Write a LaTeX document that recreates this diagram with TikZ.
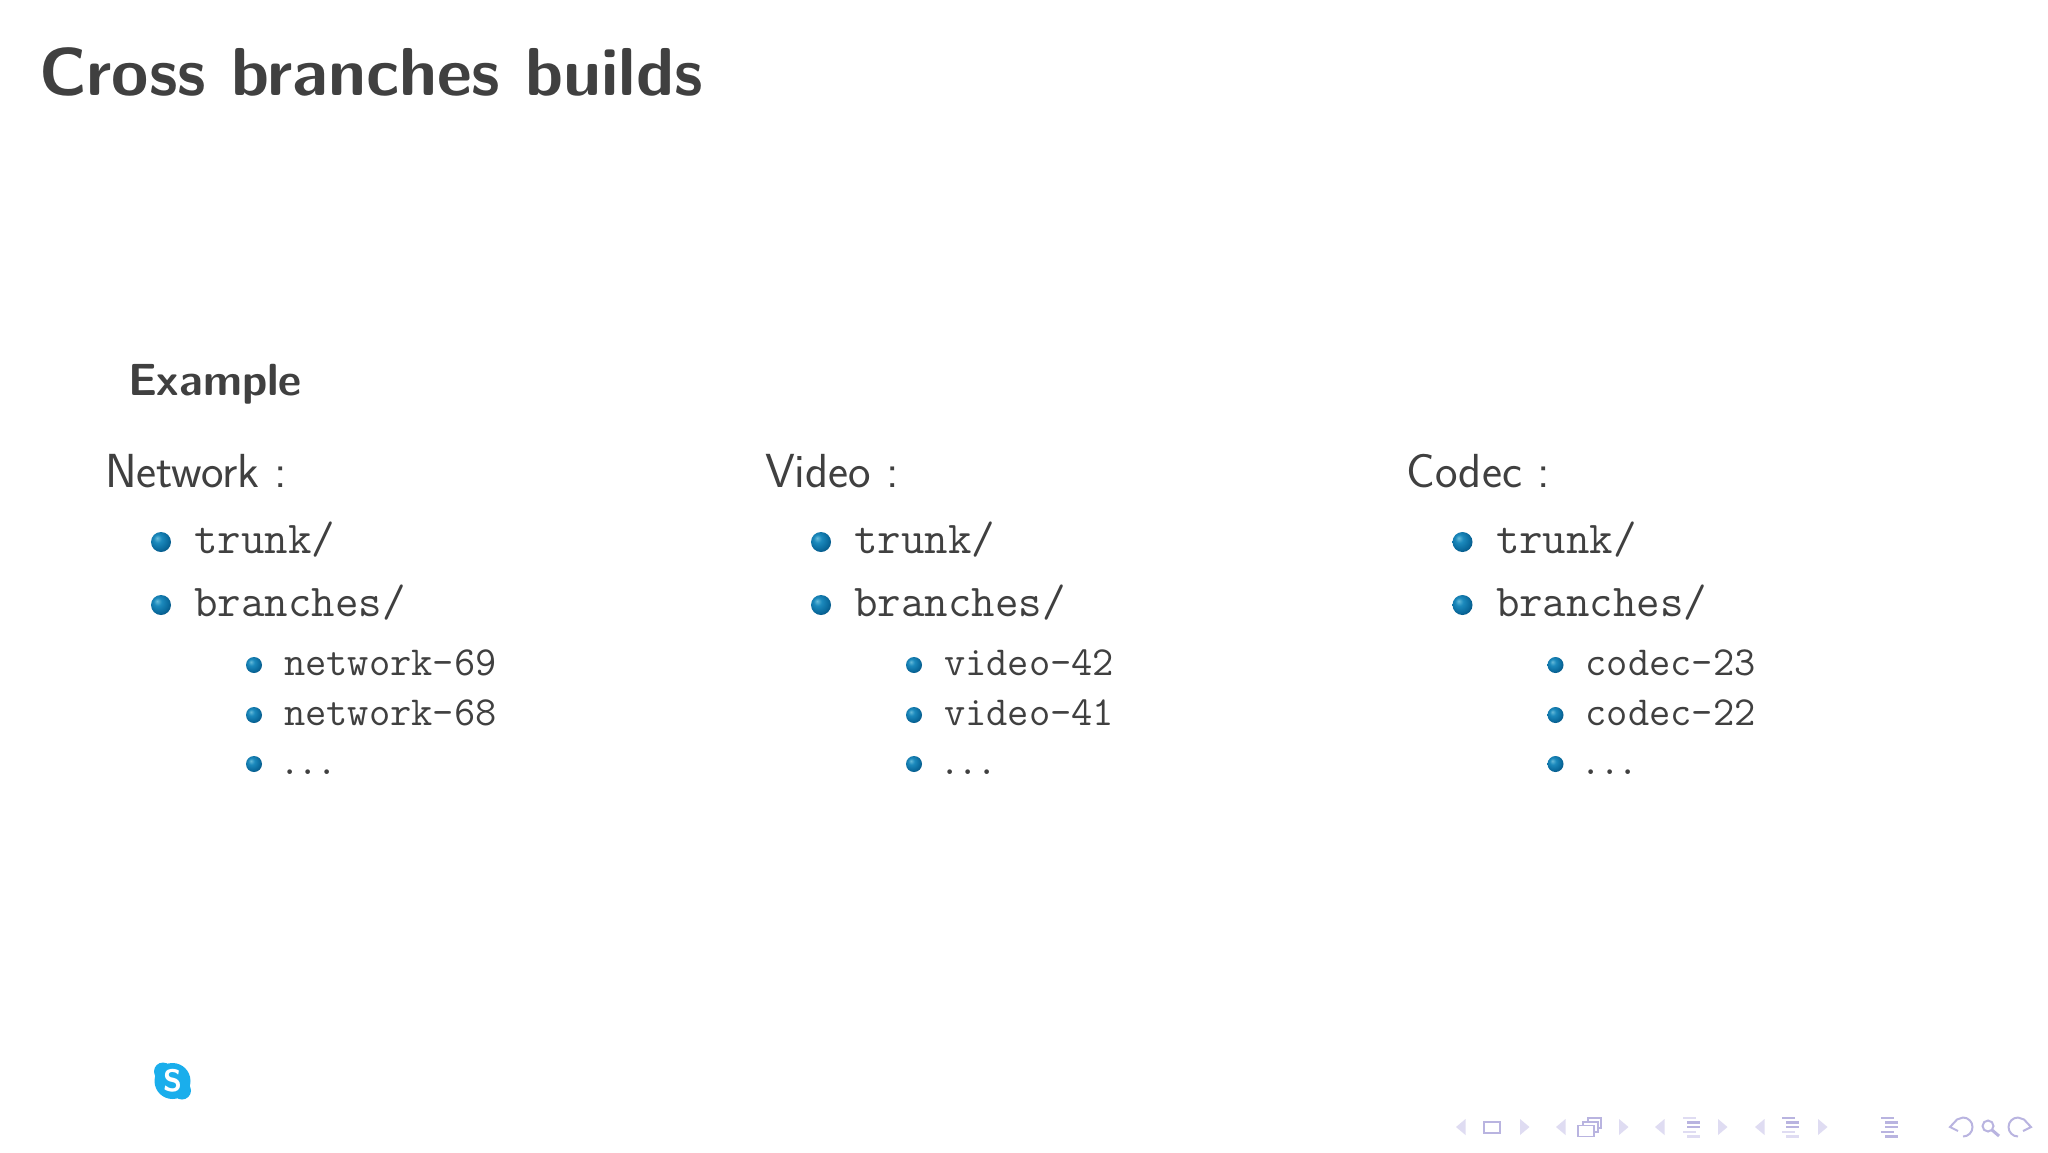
\documentclass[tikz,border=0pt]{standalone}
\usepackage{fontspec}
\definecolor{txt}{HTML}{404040}
\definecolor{navd}{HTML}{B9B4E0}
\definecolor{navl}{HTML}{DFDCF2}
\definecolor{skype}{HTML}{1AAEEC}
\pgfdeclareradialshading{blueball}{\pgfpoint{-10bp}{10bp}}{%
  rgb(0bp)=(0.40,0.73,0.85);
  rgb(10bp)=(0.11,0.54,0.74);
  rgb(24bp)=(0.04,0.42,0.62);
  rgb(36bp)=(0.02,0.30,0.47);
  rgb(60bp)=(0.02,0.30,0.47)}
\newcommand{\fs}[1]{\fontsize{#1}{#1}\selectfont}
\tikzset{
  x=1pt,y=-1pt,
  txtbase/.style={anchor=base west,inner sep=0pt,outer sep=0pt,text=txt},
  titletext/.style={txtbase,font=\sffamily\bfseries\fs{67.8}},
  headtext/.style={txtbase,font=\sffamily\bfseries\fs{45}},
  coltext/.style={txtbase,font=\sffamily\fs{47.8}},
  lvlone/.style={txtbase,font=\ttfamily\fs{45.6}},
  lvltwo/.style={txtbase,font=\ttfamily\fs{41.3}},
  navtri/.style={fill=navl,draw=none},
  navline/.style={draw=navd,line width=1.6pt},
  navthick/.style={draw=navd,line width=2.6pt},
  navfaint/.style={draw=navl,line width=2.6pt},
}
\newcommand{\ballat}[3]{\shade[shading=blueball] (#1,#2) circle[radius=#3];}
\newcommand{\branchcol}[5]{% prefix xoff head item1 item2
  \begin{scope}[xshift=#2pt]
    \node[coltext] (#1head) at (105,487) {#3};
    \ballat{161}{542}{10}
    \node[lvlone] (#1trunk) at (194.5,553) {trunk/};
    \ballat{161}{605}{10}
    \node[lvlone] (#1branches) at (194.5,616) {branches/};
    \ballat{254}{665}{8}
    \node[lvltwo] (#1a) at (284,675) {#4};
    \ballat{254}{715}{8}
    \node[lvltwo] (#1b) at (284,725) {#5};
    \ballat{254}{764}{8}
    \node[lvltwo] (#1c) at (279,774) {.\kern-2.6pt.\kern-2.6pt.};
  \end{scope}}
\newcommand{\navleft}[1]{\fill[navtri] (#1,1127) -- (#1+9.5,1119) -- (#1+9.5,1135) -- cycle;}
\newcommand{\navright}[1]{\fill[navtri] (#1+9.5,1127) -- (#1,1119) -- (#1,1135) -- cycle;}
% #1 left x, #2..#6 styles of the five lines
\newcommand{\navlines}[6]{%
  \draw[#2] (#1,1118) -- (#1+13,1118);
  \draw[#3] (#1+4,1122.5) -- (#1+17,1122.5);
  \draw[#4] (#1+4,1127) -- (#1+17,1127);
  \draw[#5] (#1,1132) -- (#1+13,1132);
  \draw[#6] (#1+4,1136.5) -- (#1+17,1136.5);}
\begin{document}
\begin{tikzpicture}
\useasboundingbox (0,0) rectangle (2048,1152);
\fill[white] (0,0) rectangle (2048,1152);
\node[titletext] (title) at (39,95) {Cross branches builds};
\node[headtext] (example) at (128,395) {Example};
\branchcol{n}{0}{Network :}{network-69}{network-68}
\branchcol{v}{660}{Video :}{video-42}{video-41}
\branchcol{c}{1301.5}{Codec :}{codec-23}{codec-22}
% Skype logo
\fill[skype] (172.5,1081) circle[radius=18];
\fill[skype] (163,1071.5) circle[radius=9];
\fill[skype] (182,1090.5) circle[radius=9];
\node[anchor=center,inner sep=0pt,text=white,font=\sffamily\bfseries\fs{31}] (skypes) at (172.5,1081) {S};
% Navigation symbols
\navleft{1456}
\draw[navline] (1484,1122) rectangle (1500,1133);
\navright{1520}
\navleft{1556}
\draw[navline,line width=1.2pt] (1588,1118) rectangle (1601,1128);
\draw[navline,line width=1.2pt,fill=white] (1583,1122) rectangle (1598,1132);
\draw[navline,fill=white] (1578,1125.5) rectangle (1594,1136.5);
\navright{1619}
\navleft{1655}
\navlines{1683}{navfaint}{navthick}{navthick}{navfaint}{navfaint}
\navright{1718}
\navleft{1755}
\navlines{1782}{navthick}{navthick}{navthick}{navfaint}{navfaint}
\navright{1818}
\navlines{1881}{navthick}{navthick}{navthick}{navthick}{navthick}
\draw[navline,line width=2pt] (1963,1117.5) arc[start angle=-90,end angle=90,radius=9.5];
\draw[navline,line width=2pt] (1963,1117.5) -- (1957,1119.5) -- (1950,1127) -- (1958,1131);
\draw[navline,line width=2pt] (1988,1126) circle[radius=5.5];
\draw[navline,line width=3pt] (1992,1130) -- (1999,1136);
\draw[navline,line width=2pt] (2018,1117.5) arc[start angle=-90,end angle=-270,radius=9.5];
\draw[navline,line width=2pt] (2018,1117.5) -- (2024,1119.5) -- (2031,1127) -- (2023,1131);
\end{tikzpicture}
\end{document}
